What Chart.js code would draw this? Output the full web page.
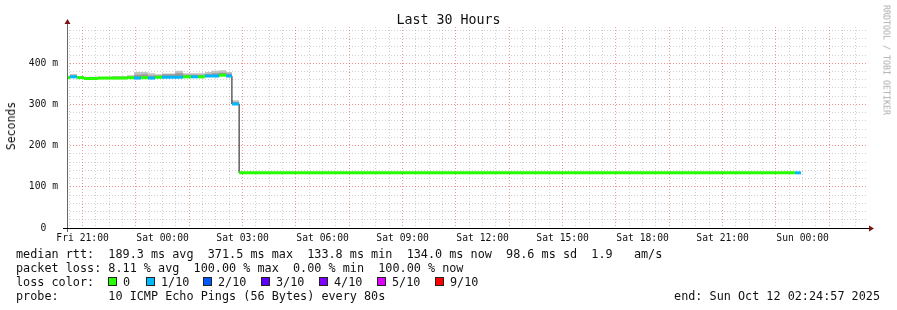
<!DOCTYPE html>
<html>
<head>
<meta charset="utf-8">
<script src="https://cdn.jsdelivr.net/npm/chart.js@4"></script>
<style>
  body { margin: 0; background: #fff; }
  #wrap { position: relative; width: 897px; height: 310px; background: #fff; overflow: hidden; }
  #wrap canvas { position: absolute; left: 0; top: 0; }
  .t { position: absolute; font-family: "DejaVu Sans Mono", monospace; white-space: pre; color: #111; }
  .row { left: 16px; font-size: 11.8px; line-height: 14px; }
  .box { position: absolute; width: 7px; height: 7px; border: 1px solid #222; }
</style>
</head>
<body>
<div id="wrap">
  <canvas id="chart" width="897" height="310"></canvas>
  <div class="t" style="left:0;width:897px;text-align:center;top:12px;font-size:13.3px;line-height:16px">Last 30 Hours</div>
  <div class="t" style="left:11px;top:126px;font-size:11.5px;line-height:12px;transform:translate(-50%,-50%) rotate(-90deg)">Seconds</div>
  <div class="t" style="left:886px;top:60px;font-size:8.3px;line-height:9px;color:#aaa;transform:translate(-50%,-50%) rotate(90deg)">RRDTOOL / TOBI OETIKER</div>
  <div class="t row" style="top:247px">median rtt:  189.3 ms avg  371.5 ms max  133.8 ms min  134.0 ms now  98.6 ms sd  1.9   am/s</div>
  <div class="t row" style="top:261px">packet loss: 8.11 % avg  100.00 % max  0.00 % min  100.00 % now</div>
  <div class="t row" style="top:275px">loss color:</div>
  <div id="legend"></div>
  <div class="t row" style="top:289px">probe:       10 ICMP Echo Pings (56 Bytes) every 80s</div>
  <div class="t row" style="top:289px;left:auto;right:17px">end: Sun Oct 12 02:24:57 2025</div>
</div>
<script>
// time in hours counted from Fri 00:00
const xMin = 20.4158;   // Fri 20:24:57
const xMax = 50.4158;   // Sun 02:24:57

// each segment runs from segStart[i] to the next start (last one to lastEnd)
const segStart = [20.42, 20.53, 20.79, 21.05, 21.58, 22.10, 22.67, 22.93, 23.19, 23.45, 23.72, 23.98,
                  24.47, 24.77, 25.07, 25.33, 25.59, 25.85, 26.12, 26.38, 26.60, 26.87, 47.72];
const lastEnd = 47.94;
const median   = [365, 367, 365, 363, 364, 364, 365, 364, 365, 364, 366, 366,
                  366, 367, 367, 367, 369, 369, 371, 369, 301, 134, 134];
const smokeMid = [367, 370, 367, 365, 366, 366, 368, 372, 373, 370, 370, 373,
                  376, 372, 372, 372, 374, 376, 377, 375, 306, 134, 134];
const smokeHi  = [368, 374, 369, 367, 367, 369, 371, 379, 379, 376, 373, 375,
                  382, 376, 376, 376, 379, 382, 383, 379, 310, 134, 134];
// index into lossLabels / lossColors
const loss     = [0, 1, 0, 0, 0, 0, 0, 1, 0, 1, 0, 1,
                  1, 0, 1, 0, 1, 1, 0, 1, 1, 0, 1];

const lossLabels = ['0', '1/10', '2/10', '3/10', '4/10', '5/10', '9/10'];
const lossColors = ['#26ff00', '#00b8ff', '#0059ff', '#5e00ff', '#7e00ff', '#dd00ff', '#ff0000'];
const yTicks = [0, 100, 200, 300, 400];

// legend boxes for the loss colours
const legendX = [108, 146, 203, 261, 319, 377, 435];
const legend = document.getElementById('legend');
lossLabels.forEach((lab, i) => {
  const b = document.createElement('div');
  b.className = 'box';
  b.style.left = legendX[i] + 'px';
  b.style.top = '277px';
  b.style.background = lossColors[i];
  legend.appendChild(b);
  const t = document.createElement('div');
  t.className = 't row';
  t.style.left = (legendX[i] + 15) + 'px';
  t.style.top = '275px';
  t.textContent = lab;
  legend.appendChild(t);
});

const segEnd = i => (i + 1 < segStart.length ? segStart[i + 1] : lastEnd);
const stepPts = vals => segStart.map((x, i) => ({x, y: vals[i]}))
  .concat([{x: lastEnd, y: vals[vals.length - 1]}]);
const barPts = segStart.flatMap((x, i) => [
  {x, y: median[i]}, {x: segEnd(i), y: median[i]}, {x: segEnd(i), y: null}
]);

const RED = 'rgba(235,40,40,0.5)';
const GREY = 'rgba(150,150,150,0.45)';

const axisPlugin = {
  id: 'axes',
  afterDraw(chart) {
    const {ctx, chartArea: a} = chart;
    ctx.save();
    ctx.lineWidth = 1;
    ctx.strokeStyle = '#666';
    ctx.beginPath();
    ctx.moveTo(a.left + 0.5, a.bottom + 4);
    ctx.lineTo(a.left + 0.5, a.top - 4);
    ctx.stroke();
    ctx.strokeStyle = '#000';
    ctx.beginPath();
    ctx.moveTo(a.left - 4, a.bottom + 0.5);
    ctx.lineTo(a.right + 2, a.bottom + 0.5);
    ctx.stroke();
    ctx.fillStyle = '#7a1414';
    ctx.beginPath();
    ctx.moveTo(a.left + 0.5, a.top - 8);
    ctx.lineTo(a.left - 2.5, a.top - 3);
    ctx.lineTo(a.left + 3.5, a.top - 3);
    ctx.fill();
    ctx.beginPath();
    ctx.moveTo(a.right + 7, a.bottom + 0.5);
    ctx.lineTo(a.right + 2, a.bottom - 2.5);
    ctx.lineTo(a.right + 2, a.bottom + 3.5);
    ctx.fill();
    ctx.restore();
  }
};

const pad = n => String(n).padStart(2, '0');

new Chart(document.getElementById('chart'), {
  type: 'line',
  data: {
    datasets: [
      { data: stepPts(median), stepped: true, borderWidth: 0, pointRadius: 0, fill: false, order: 5 },
      { data: stepPts(smokeHi), stepped: true, borderWidth: 0, pointRadius: 0,
        fill: {target: 0}, backgroundColor: '#c2c2c2', order: 4 },
      { data: stepPts(smokeMid), stepped: true, borderWidth: 0, pointRadius: 0,
        fill: {target: 0}, backgroundColor: '#999999', order: 3 },
      { data: stepPts(median), stepped: true, borderWidth: 1, borderColor: '#111',
        pointRadius: 0, fill: false, order: 2 },
      { data: barPts, borderWidth: 3, borderCapStyle: 'butt', pointRadius: 0, fill: false,
        spanGaps: false, borderColor: lossColors[0], order: 1,
        segment: { borderColor: c => lossColors[loss[Math.floor(c.p0DataIndex / 3)]] } }
    ]
  },
  options: {
    responsive: false,
    animation: false,
    events: [],
    layout: { padding: { left: 0, right: 30, top: 27, bottom: 62 } },
    plugins: { legend: { display: false }, tooltip: { enabled: false } },
    scales: {
      x: {
        type: 'linear',
        min: xMin,
        max: xMax,
        afterBuildTicks: s => {
          const t = [];
          for (let h = 20.5; h <= 50; h += 0.5) t.push({value: h});
          s.ticks = t;
        },
        afterFit: s => { s.height = 20; s.paddingLeft = 0; s.paddingRight = 0; },
        grid: {
          drawTicks: false,
          lineWidth: 1,
          color: c => (Number.isInteger(c.tick.value) && c.tick.value % 2 === 1 ? RED : GREY)
        },
        border: { display: false, dash: [1, 2] },
        ticks: {
          autoSkip: false,
          maxRotation: 0,
          minRotation: 0,
          padding: 5,
          color: '#111',
          font: { family: 'DejaVu Sans Mono', size: 9.7 },
          callback: v => {
            if (!Number.isInteger(v) || v % 3 !== 0) return '';
            const day = v < 24 ? 'Fri' : v < 48 ? 'Sat' : 'Sun';
            return day + ' ' + pad(v % 24) + ':00';
          }
        }
      },
      y: {
        min: 0,
        max: 488,
        afterBuildTicks: s => {
          const t = [];
          for (let v = 0; v <= 480; v += 20) t.push({value: v});
          s.ticks = t;
        },
        afterFit: s => { s.width = 67; },
        grid: {
          drawTicks: false,
          lineWidth: 1,
          color: c => (c.tick.value % 100 === 0 ? RED : GREY)
        },
        border: { display: false, dash: [1, 2] },
        ticks: {
          autoSkip: false,
          padding: 9,
          color: '#111',
          font: { family: 'DejaVu Sans Mono', size: 9.7 },
          callback: v => (yTicks.includes(v) ? (v === 0 ? '0  ' : v + ' m') : '')
        }
      }
    }
  },
  plugins: [axisPlugin]
});
</script>
</body>
</html>
